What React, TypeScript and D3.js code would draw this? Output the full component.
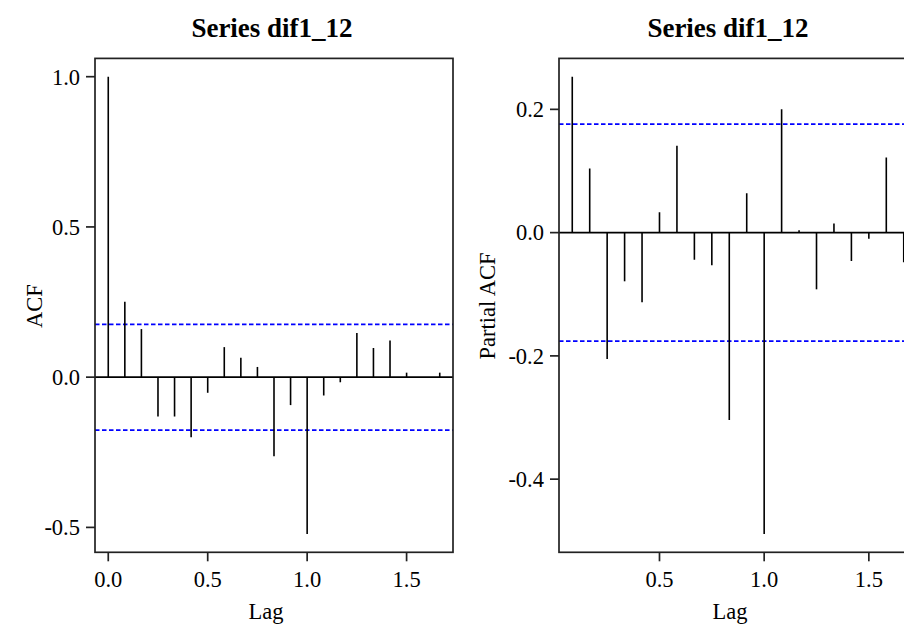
import React from "react";
import * as d3 from "d3";

const acfLags: number[] = d3.range(0, 21).map((k) => k / 12);
const acfValues: number[] = [
  1.0, 0.251, 0.16, -0.131, -0.131, -0.2, -0.052, 0.1, 0.065, 0.034, -0.263,
  -0.093, -0.522, -0.061, -0.017, 0.147, 0.097, 0.122, 0.015, -0.003, 0.015,
];
const pacfLags: number[] = d3.range(1, 21).map((k) => k / 12);
const pacfValues: number[] = [
  0.253, 0.104, -0.205, -0.079, -0.113, 0.033, 0.141, -0.044, -0.053, -0.304,
  0.064, -0.489, 0.2, 0.004, -0.092, 0.015, -0.046, -0.01, 0.122, -0.048,
];
const ciBound = 0.176;
const acfYTicks = [-0.5, 0, 0.5, 1.0];
const pacfYTicks = [-0.4, -0.2, 0, 0.2];
const xTicks = [0, 0.5, 1.0, 1.5];
const titleText = "Series dif1_12";

const FONT = "'Liberation Serif', 'Times New Roman', serif";

function padExtent(vals: number[]): [number, number] {
  const [a, b] = d3.extent(vals) as [number, number];
  const p = (b - a) * 0.04;
  return [a - p, b + p];
}

const fmt = (t: number) => d3.format(".1f")(t).replace("\u2212", "-");

type PanelProps = {
  lags: number[];
  values: number[];
  left: number;
  right: number;
  yTicks: number[];
  ylab: string;
  ylabX: number;
  titleX: number;
  lagX: number;
};

function Panel(p: PanelProps) {
  const top = 58.4;
  const bottom = 552.3;
  const x = d3.scaleLinear().domain(padExtent(p.lags)).range([p.left, p.right]);
  const y = d3
    .scaleLinear()
    .domain(padExtent([...p.values, ciBound, -ciBound]))
    .range([bottom, top]);
  const xd = x.domain();
  const visX = xTicks.filter((t) => t >= xd[0] && t <= xd[1]);
  const clipId = "clip" + p.left;
  return (
    <g>
      <defs>
        <clipPath id={clipId}>
          <rect x={p.left} y={top} width={p.right - p.left} height={bottom - top} />
        </clipPath>
      </defs>
      <text
        x={p.titleX}
        y={37}
        textAnchor="middle"
        fontFamily={FONT}
        fontWeight="bold"
        fontSize={27}
      >
        {titleText}
      </text>
      <g clipPath={`url(#${clipId})`}>
        <line x1={p.left} x2={p.right} y1={y(0)} y2={y(0)} stroke="#000" strokeWidth={1.6} />
        {[ciBound, -ciBound].map((c, i) => (
          <line
            key={i}
            x1={p.left}
            x2={p.right}
            y1={y(c)}
            y2={y(c)}
            stroke="#0000ff"
            strokeWidth={1.7}
            strokeDasharray="4.5,2.5"
          />
        ))}
        {p.values.map((v, i) => (
          <line
            key={i}
            x1={x(p.lags[i])}
            x2={x(p.lags[i])}
            y1={y(0)}
            y2={y(v)}
            stroke="#000"
            strokeWidth={1.6}
          />
        ))}
      </g>
      <rect
        x={p.left}
        y={top}
        width={p.right - p.left}
        height={bottom - top}
        fill="none"
        stroke="#222"
        strokeWidth={1.7}
      />
      {p.yTicks.map((t) => (
        <g key={t}>
          <line x1={p.left - 9} x2={p.left} y1={y(t)} y2={y(t)} stroke="#222" strokeWidth={1.7} />
          <text
            x={p.left - 15}
            y={y(t)}
            dy="0.35em"
            textAnchor="end"
            fontFamily={FONT}
            fontSize={22.5}
          >
            {fmt(t)}
          </text>
        </g>
      ))}
      {visX.map((t) => (
        <g key={t}>
          <line x1={x(t)} x2={x(t)} y1={bottom} y2={bottom + 9} stroke="#222" strokeWidth={1.7} />
          <text x={x(t)} y={587} textAnchor="middle" fontFamily={FONT} fontSize={22.5}>
            {fmt(t)}
          </text>
        </g>
      ))}
      <text x={p.lagX} y={619} textAnchor="middle" fontFamily={FONT} fontSize={22.5}>
        Lag
      </text>
      <text
        transform={`translate(${p.ylabX},${306}) rotate(-90)`}
        textAnchor="middle"
        fontFamily={FONT}
        fontSize={22.5}
      >
        {p.ylab}
      </text>
    </g>
  );
}

export default function App() {
  return (
    <svg
      width={904}
      height={626}
      style={{ position: "absolute", left: 0, top: 0, display: "block", background: "#fff" }}
    >
      <rect width={904} height={626} fill="#fff" />
      <Panel
        lags={acfLags}
        values={acfValues}
        left={95}
        right={453}
        yTicks={acfYTicks}
        ylab="ACF"
        ylabX={41.5}
        titleX={272}
        lagX={266}
      />
      <Panel
        lags={pacfLags}
        values={pacfValues}
        left={559}
        right={917}
        yTicks={pacfYTicks}
        ylab="Partial ACF"
        ylabX={495}
        titleX={728}
        lagX={730}
      />
    </svg>
  );
}
